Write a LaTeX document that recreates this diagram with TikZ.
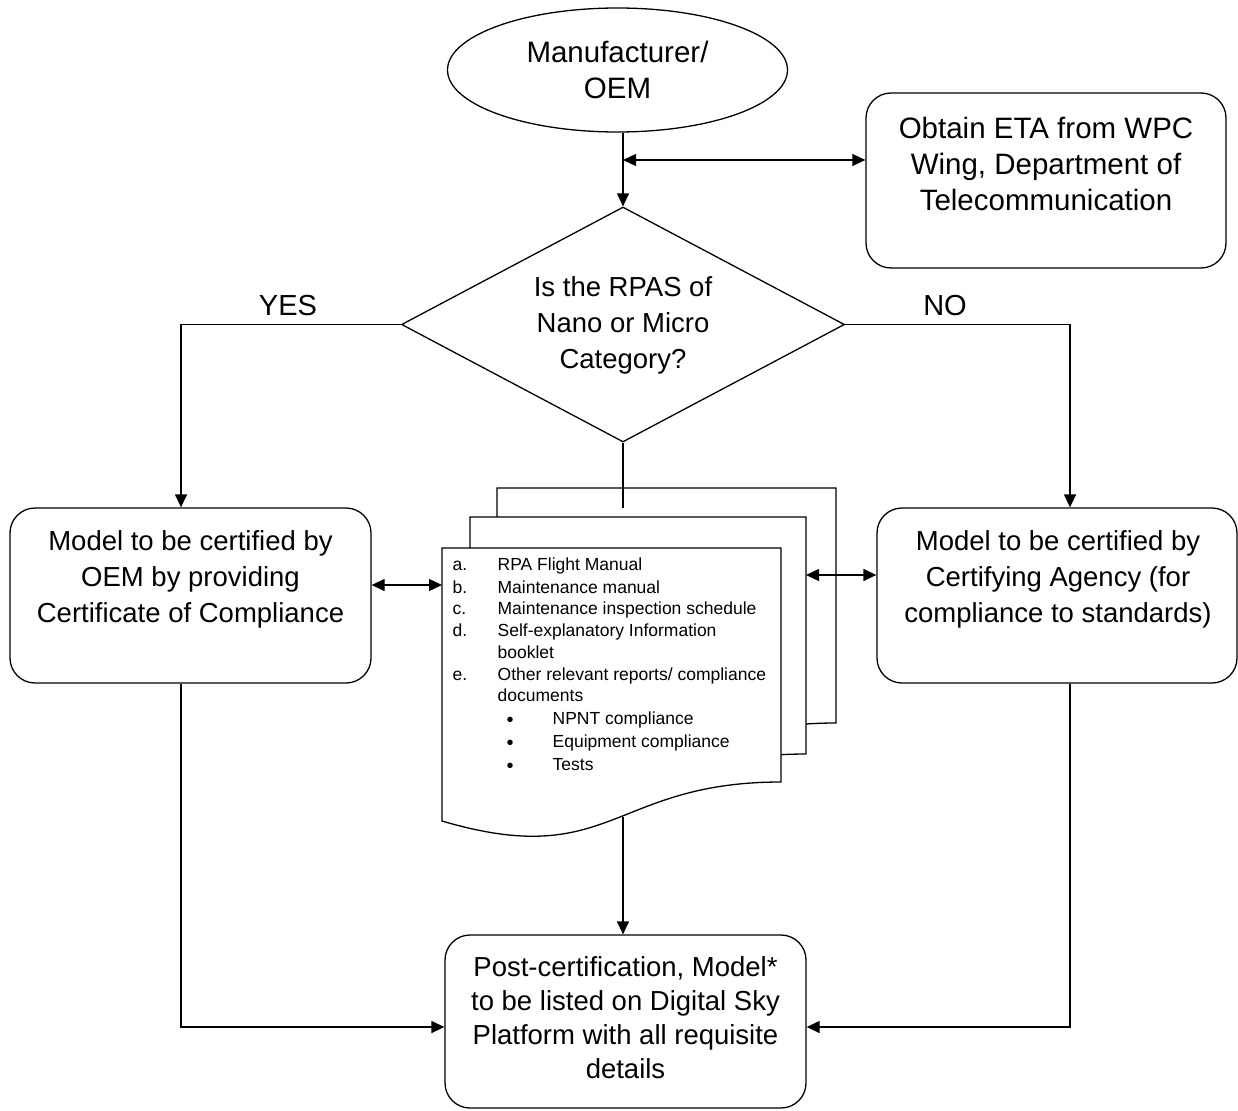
\documentclass[tikz,border=0pt]{standalone}
\usepackage{fontspec}
\setmainfont{Liberation Sans}
\usetikzlibrary{shapes.geometric,arrows.meta}
\begin{document}
\begin{tikzpicture}[x=1pt,y=-1pt,line width=1.3pt,
  main/.style={font=\fontsize{#1}{36}\selectfont,align=center,inner sep=0pt},
  main/.default=27.5,
  small/.style={font=\fontsize{17.5}{21}\selectfont,inner sep=0pt,anchor=base west},
  bul/.style={font=\fontsize{20}{21}\selectfont,inner sep=0pt,anchor=base},
  rbox/.style={draw,rounded corners=25pt,inner sep=0pt},
  arr/.style={-{Triangle[length=13pt,width=12pt]}},
  darr/.style={{Triangle[length=13pt,width=12pt]}-{Triangle[length=13pt,width=12pt]}},
  page/.style={draw,fill=white}]
\useasboundingbox (0,0) rectangle (1238,1110);

% nodes
\node[draw,ellipse,minimum width=340pt,minimum height=124pt,inner sep=0pt] (oem) at (617.5,70) {};
\node[main=29.5] (oemt) at (617.5,70) {Manufacturer/\\OEM};

\node[rbox,minimum width=360pt,minimum height=175pt] (eta) at (1046,180.5) {};
\node[main=29.5] (etat) at (1046,164) {Obtain ETA from WPC\\Wing, Department of\\Telecommunication};

\node[draw,diamond,minimum width=443pt,minimum height=235pt,inner sep=0pt,shape aspect=1.885] (dec) at (623,324.5) {};
\node[main] (dect) at (623,325) {Is the RPAS of\\Nano or Micro\\Category?};

\node[main=29] (yes) at (288,306) {YES};
\node[main=29] (no) at (945,306) {NO};

\node[rbox,minimum width=361pt,minimum height=175pt] (lbox) at (190.5,595.5) {};
\node[main] (lboxt) at (190.5,579) {Model to be certified by\\OEM by providing\\Certificate of Compliance};

\node[rbox,minimum width=360pt,minimum height=175pt] (rbox) at (1057,595.5) {};
\node[main] (rboxt) at (1058,579) {Model to be certified by\\Certifying Agency (for\\compliance to standards)};

\node[rbox,minimum width=361pt,minimum height=173pt] (post) at (625.5,1021.5) {};
\node[main,font=\fontsize{27.5}{34}\selectfont] (postt) at (625.5,1018) {Post-certification, Model*\\to be listed on Digital Sky\\Platform with all requisite\\details};

% document stack
\draw[page] (497,488) -- (836,488) -- (836,723) .. controls (666.5,723) and (666.5,812) .. (497,762) -- cycle;
\coordinate (doctop) at (623,508);
\draw (dec.south) -- (doctop);
\draw[page] (470,517) -- (806,517) -- (806,754) .. controls (638,754) and (638,843) .. (470,793) -- cycle;
\draw[page] (442,548) -- (781,548) -- (781,782) .. controls (611.5,782) and (611.5,871) .. (442,821) -- cycle;
\coordinate (docbot) at (623,817);
\coordinate (docl) at (442,585);
\coordinate (docr) at (806,575);

\node[small] (la) at (452,570) {a.};
\node[small] (ta) at (497,570) {RPA Flight Manual};
\node[small] (lb) at (452,593) {b.};
\node[small] (tb) at (497,593) {Maintenance manual};
\node[small] (lc) at (452,614) {c.};
\node[small] (tc) at (497,614) {Maintenance inspection schedule};
\node[small] (ld) at (452,636) {d.};
\node[small] (td) at (497,636) {Self-explanatory Information};
\node[small] (td2) at (497,658) {booklet};
\node[small] (le) at (452,680) {e.};
\node[small] (te) at (497,680) {Other relevant reports/ compliance};
\node[small] (te2) at (497,701) {documents};
\node[bul] (b1) at (510,726) {•};
\node[small] (tb1) at (552,724) {NPNT compliance};
\node[bul] (b2) at (510,749) {•};
\node[small] (tb2) at (552,747) {Equipment compliance};
\node[bul] (b3) at (510,772) {•};
\node[small] (tb3) at (552,770) {Tests};

% connectors
\draw[arr] (dec.north |- oem.south) -- (dec.north);
\coordinate (etaj) at (dec.north |- 0,160);
\draw[darr] (etaj) -- (eta.west |- etaj);
\coordinate (ly) at (181,324.5);
\coordinate (ry) at (1070,324.5);
\draw[arr] (dec.west) -- (ly) -- (ly |- lbox.north);
\draw[arr] (dec.east) -- (ry) -- (ry |- rbox.north);
\draw[darr] (lbox.east |- docl) -- (docl);
\draw[darr] (docr) -- (rbox.west |- docr);
\draw[arr] (docbot) -- (docbot |- post.north);
\coordinate (lb) at (181,1027);
\coordinate (rb) at (1070,1027);
\draw[arr] (ly |- lbox.south) -- (lb) -- (post.west |- lb);
\draw[arr] (ry |- rbox.south) -- (rb) -- (post.east |- rb);
\end{tikzpicture}
\end{document}
